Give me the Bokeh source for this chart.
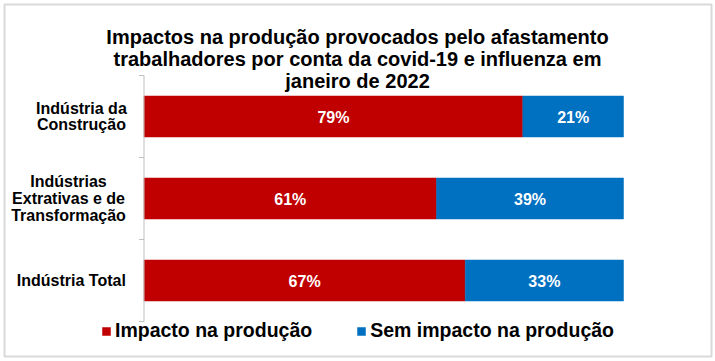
from bokeh.plotting import figure
from bokeh.models import ColumnDataSource, Range1d, LabelSet, Label, Legend, LegendItem
from bokeh.core.properties import value
from bokeh.embed import file_html
from bokeh.resources import INLINE

# ---------------- data ----------------
categories = ["Indústria da Construção",
              "Indústrias Extrativas e de Transformação",
              "Indústria Total"]
category_lines = [["Indústria da", "Construção"],
                  ["Indústrias", "Extrativas e de", "Transformação"],
                  ["Indústria Total"]]
impacto = [79, 61, 67]
sem_impacto = [21, 39, 33]
series_names = ["Impacto na produção", "Sem impacto na produção"]
title_lines = ["Impactos na produção provocados pelo afastamento",
               "trabalhadores por conta da covid-19 e influenza em",
               "janeiro de 2022"]

# ---------------- style / layout ----------------
RED = "#C00000"
BLUE = "#0070C0"
FONT = "Liberation Sans"
AXIS_GRAY = "#BFBFBF"
FRAME_GRAY = "#D9D9D9"

FIG_W, FIG_H = 715, 361
PLOT_X0, PLOT_X1 = 143.5, 623.0      # pixel x of 0% and 100%
AXIS_Y_BOTTOM, BAND = 321.0, 82.0    # pixel y of the lowest boundary, band height
K = (PLOT_X1 - PLOT_X0) / 100.0      # px per percent
BORDER_PX = (4, 711, 4, 356)         # chart-area border: left, right, top, bottom (px)

# approximate bold glyph widths (per 1000 em) to centre multi-line labels
GW = {"I": 278, "n": 611, "d": 611, "ú": 611, "s": 556, "t": 333, "r": 389, "i": 278,
      "a": 556, " ": 278, "C": 722, "o": 611, "ç": 556, "ã": 556, "E": 667, "x": 556,
      "v": 556, "e": 556, "T": 611, "f": 333, "m": 889, "l": 278}


def text_w(s, size):
    return sum(GW.get(c, 556) for c in s) / 1000.0 * size


def px_to_x(px):
    return (px - PLOT_X0) / K


def px_to_y(py):
    return (AXIS_Y_BOTTOM - py) / BAND


n_cat = len(categories)
ypos = [n_cat - 1 - i + 0.5 for i in range(n_cat)]   # first category on top

p = figure(width=FIG_W, height=FIG_H, output_backend="svg", toolbar_location=None,
           x_range=Range1d(px_to_x(0), px_to_x(FIG_W)),
           y_range=Range1d(px_to_y(FIG_H), px_to_y(0)),
           x_axis_location=None, y_axis_location=None,
           min_border=0, min_border_left=0, min_border_right=0,
           min_border_top=0, min_border_bottom=0)
p.title.visible = False
p.xgrid.visible = False
p.ygrid.visible = False
p.outline_line_color = None
p.background_fill_color = "white"
p.border_fill_color = "white"

# chart-area border
bl, br, bt, bb = BORDER_PX
p.quad(left=[px_to_x(bl)], right=[px_to_x(br)], top=[px_to_y(bt)], bottom=[px_to_y(bb)],
       fill_color=None, line_color=FRAME_GRAY, line_width=2)

# bars
src = ColumnDataSource(dict(y=ypos, impacto=impacto, sem=sem_impacto))
rs = p.hbar_stack(["impacto", "sem"], y="y", height=0.5, fill_color=[RED, BLUE],
                  line_color=[RED, BLUE], line_width=0.5, source=src)

# category axis line with boundary ticks
bounds = list(range(n_cat + 1))
p.segment(x0=[0], y0=[0], x1=[0], y1=[n_cat], line_color=AXIS_GRAY, line_width=1)
p.segment(x0=[-5 / K] * len(bounds), y0=bounds, x1=[0] * len(bounds), y1=bounds,
          line_color=AXIS_GRAY, line_width=1)

# value labels inside bars
vx = [a / 2 for a in impacto] + [a + b / 2 for a, b in zip(impacto, sem_impacto)]
vsrc = ColumnDataSource(dict(x=vx, y=ypos * 2,
                             t=[f"{v}%" for v in impacto + sem_impacto]))
p.add_layout(LabelSet(x="x", y="y", text="t", source=vsrc, text_align="center",
                      text_baseline="alphabetic", y_offset=-6.3, text_color="white",
                      text_font=value(FONT), text_font_style="bold",
                      text_font_size="16px"))

# category labels (multi-line, centred block, right edge near axis)
rx, ry, rt, ro = [], [], [], []
for yc, lines in zip(ypos, category_lines):
    n = len(lines)
    maxw = max(text_w(l, 16.6) for l in lines)
    cx = PLOT_X0 - 15.5 - maxw / 2
    for i, l in enumerate(lines):
        k = i - (n - 1) / 2
        rx.append(cx)
        ry.append(yc)
        rt.append(l)
        ro.append(-(5.5 + k * 16.7))
csrc = ColumnDataSource(dict(x=rx, y=ry, t=rt, o=ro))
p.add_layout(LabelSet(x="x", y="y", text="t", y_offset="o", source=csrc, x_units="screen",
                      text_align="center", text_baseline="alphabetic", text_color="black",
                      text_font=value(FONT), text_font_style="bold", text_font_size="16px"))

# title
for i, line in enumerate(title_lines):
    p.add_layout(Label(x=357, y=FIG_H - (36 + i * 22.2), x_units="screen", y_units="screen",
                       text=line, text_align="center", text_baseline="alphabetic",
                       text_font=FONT, text_font_style="bold", text_font_size="20px",
                       text_color="black"))

# legend
legend = Legend(items=[LegendItem(label=series_names[0], renderers=[rs[0]]),
                       LegendItem(label=series_names[1], renderers=[rs[1]])],
                orientation="horizontal", location=(101, 19),
                border_line_color=None, background_fill_alpha=0,
                padding=0, margin=0, spacing=44, label_standoff=4,
                glyph_width=10, glyph_height=10,
                label_text_font=FONT, label_text_font_style="bold",
                label_text_font_size="19.5px", label_text_color="black")
p.add_layout(legend)

open("out.html", "w").write(file_html(p, INLINE))
